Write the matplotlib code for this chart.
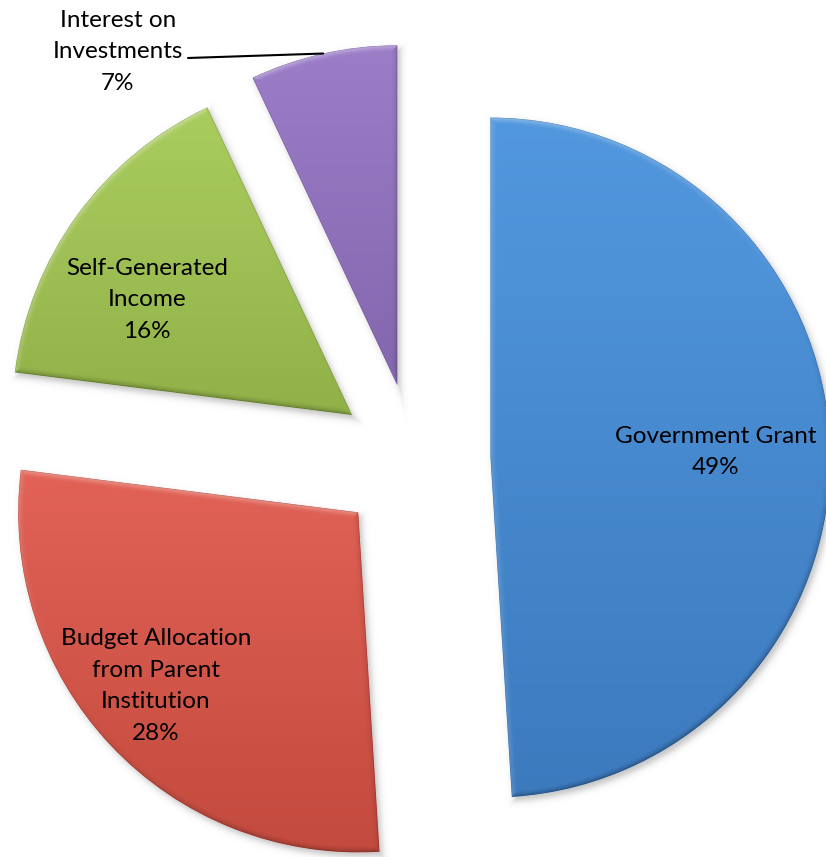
import numpy as np
import matplotlib
matplotlib.use("Agg")
import matplotlib.pyplot as plt
from matplotlib.colors import to_rgb

# Funding sources and their shares (%)
categories = [
    "Government Grant",
    "Budget Allocation\nfrom Parent\nInstitution",
    "Self-Generated\nIncome",
    "Interest on\nInvestments",
]
shares = [49, 28, 16, 7]

# Fill colours: light top -> darker bottom for each slice
base_colors = ["#4A8AD0", "#D9574A", "#9DBF55", "#8F70BA"]
top_colors = ["#5298DE", "#E26256", "#AACD5F", "#9B7DC8"]
bottom_colors = ["#3C7ABE", "#C34A3E", "#91B148", "#8466AE"]

W, H = 826, 857
UNIT = 340.0  # pixels per pie radius

fig = plt.figure(figsize=(W / 100, H / 100), dpi=100)
ax = fig.add_axes([0, 0, 1, 1])


def px(x, y):
    """Pixel position (origin top-left) -> data coordinates."""
    return x / UNIT, (H - y) / UNIT


wedges, _ = ax.pie(
    shares,
    explode=[0.225] * len(shares),
    radius=1.0,
    center=px(414, 460),
    startangle=90,
    counterclock=False,
    colors=base_colors,
    wedgeprops=dict(linewidth=0, zorder=2),
)
ax.set_xlim(0, W / UNIT)
ax.set_ylim(0, H / UNIT)
ax.set_aspect("equal")
ax.axis("off")

# pixel-centre grid in data coordinates (row 0 = top)
X, Y = np.meshgrid((np.arange(W) + 0.5) / UNIT, (H - (np.arange(H) + 0.5)) / UNIT)
extent = (0, W / UNIT, 0, H / UNIT)


def wedge_sdf(w, dx=0.0, dy=0.0):
    """Signed distance (px) to a convex wedge plus outward normal of nearest edge."""
    cx, cy = w.center
    qx, qy = X - (cx + dx), Y - (cy + dy)
    t1, t2 = np.deg2rad(w.theta1), np.deg2rad(w.theta2)
    rho = np.maximum(np.hypot(qx, qy), 1e-9)
    hc = rho - w.r
    h1 = qx * np.sin(t1) - qy * np.cos(t1)
    h2 = -qx * np.sin(t2) + qy * np.cos(t2)
    stack = np.stack([hc, h1, h2])
    idx = stack.argmax(0)
    sd = stack.max(0)
    ones = np.ones_like(qx)
    nx = np.choose(idx, [qx / rho, np.sin(t1) * ones, -np.sin(t2) * ones])
    ny = np.choose(idx, [qy / rho, -np.cos(t1) * ones, np.cos(t2) * ones])
    return sd * UNIT, nx, ny


# soft drop shadow below the slices
shadow = np.zeros((H, W))
for w in wedges:
    sd_s, _, _ = wedge_sdf(w, dx=3 / UNIT, dy=-4 / UNIT)
    shadow = np.maximum(shadow, 0.38 / (1 + np.exp(sd_s / 2.0)))
shadow_img = np.zeros((H, W, 4))
shadow_img[..., :3] = 0.38
shadow_img[..., 3] = shadow
ax.imshow(shadow_img, extent=extent, origin="upper", zorder=1, interpolation="bilinear")

# gradient fill with a bevelled rim, clipped to each slice
light = np.array([-0.45, 0.89])
for w, ct, cb in zip(wedges, top_colors, bottom_colors):
    sd, nx, ny = wedge_sdf(w)
    verts = w.get_patch_transform().transform(w.get_path().vertices)
    y0, y1 = verts[:, 1].min(), verts[:, 1].max()
    g = np.clip((y1 - Y) / (y1 - y0), 0, 1)[..., None]
    col = np.array(to_rgb(ct)) * (1 - g) + np.array(to_rgb(cb)) * g
    depth = np.clip(-sd, 0, None)
    f = (np.clip(1 - depth / 7.0, 0, 1) ** 1.6)[..., None]
    shade = (nx * light[0] + ny * light[1])[..., None]
    col = np.where(shade > 0,
                   col + (1 - col) * shade * f * 0.40,
                   col * (1 + shade * f * 0.30))
    edge = np.clip(1 - depth / 1.2, 0, 1)[..., None]
    col = col * (1 - 0.18 * edge)
    img = np.zeros((H, W, 4))
    img[..., :3] = np.clip(col, 0, 1)
    img[..., 3] = np.clip(0.5 - sd, 0, 1)
    im = ax.imshow(img, extent=extent, origin="upper", zorder=3, interpolation="bilinear")
    im.set_clip_path(w)

# data labels
font = dict(family="Lato", fontsize=17.5, color="black", ha="center", va="center",
            multialignment="center", linespacing=1.63, zorder=6)
label_pos = [(716, 452), (156, 686), (147, 300), (118, 52)]
for name, share, (lx, ly) in zip(categories, shares, label_pos):
    ax.text(*px(lx, ly), f"{name}\n{share}%", **font)

# leader line for the small slice, ending on the middle of its arc
w = wedges[3]
tm = np.deg2rad(0.5 * (w.theta1 + w.theta2))
arc_mid = (w.center[0] + w.r * np.cos(tm), w.center[1] + w.r * np.sin(tm))
ax.annotate("", xy=arc_mid, xytext=px(188, 58),
            arrowprops=dict(arrowstyle="-", color="black", lw=1.5,
                            shrinkA=0, shrinkB=0), zorder=6)

fig.savefig("out.png", dpi=100)
